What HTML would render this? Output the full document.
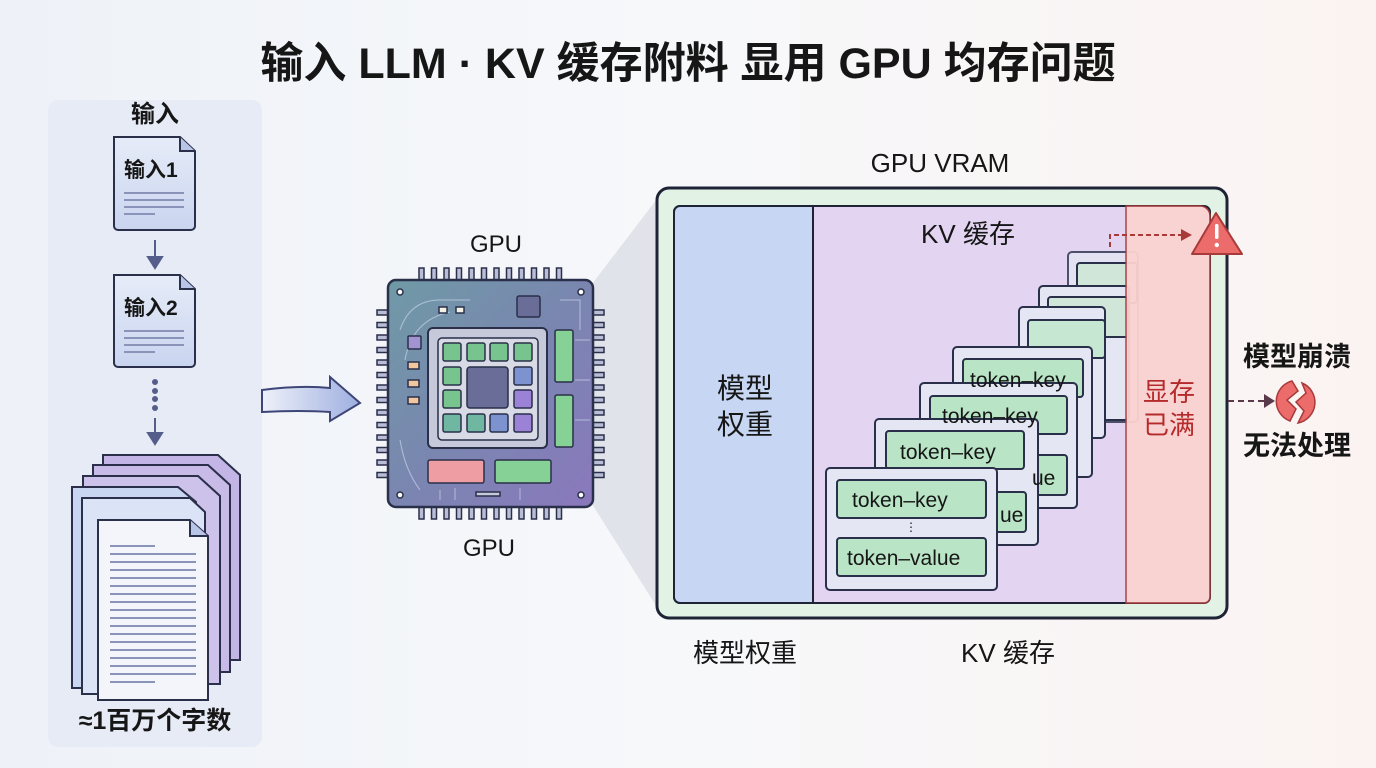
<!DOCTYPE html>
<html><head><meta charset="utf-8"><style>
html,body{margin:0;padding:0;width:1376px;height:768px;overflow:hidden;background:linear-gradient(90deg,#eef2f8,#f7f8fa 50%,#fbf3f2);}
svg{display:block}
text{font-family:"Liberation Sans","Noto Sans CJK SC",sans-serif;fill:#161616}
</style></head><body>
<svg width="1376" height="768" viewBox="0 0 1376 768" xmlns="http://www.w3.org/2000/svg">
<defs>
<linearGradient id="chip" x1="0" y1="0" x2="1" y2="1"><stop offset="0" stop-color="#6f9aa6"/><stop offset="0.5" stop-color="#7a86b0"/><stop offset="1" stop-color="#8a78bd"/></linearGradient>
<linearGradient id="arr" x1="0" x2="1"><stop offset="0" stop-color="#eef1fa"/><stop offset="1" stop-color="#9eaee0"/></linearGradient>
<linearGradient id="doc" x1="0" y1="0" x2="0" y2="1"><stop offset="0" stop-color="#e6ecf8"/><stop offset="1" stop-color="#c9d4ef"/></linearGradient>
</defs>
<text x="688" y="78" font-size="43" font-weight="bold" text-anchor="middle">输入 LLM · KV 缓存附料 显用 GPU 均存问题</text>

<!-- left panel -->
<rect x="48" y="100" width="214" height="647" rx="10" fill="#e6ebf6"/>
<text x="155" y="122" font-size="24" font-weight="bold" text-anchor="middle">输入</text>
<g stroke="#2a2f4a" stroke-width="2">
<path d="M114 137 H180 L195 151 V226 a4 4 0 0 1 -4 4 H118 a4 4 0 0 1 -4 -4 Z" fill="url(#doc)"/>
<path d="M180 137 V151 H195" fill="#b9c5e6"/>
<path d="M114 275 H180 L195 289 V363 a4 4 0 0 1 -4 4 H118 a4 4 0 0 1 -4 -4 Z" fill="url(#doc)"/>
<path d="M180 275 V289 H195" fill="#b9c5e6"/>
</g>
<text x="124" y="177" font-size="21" font-weight="bold">输入1</text>
<text x="124" y="315" font-size="21" font-weight="bold">输入2</text>
<g stroke="#8a93b8" stroke-width="2">
<line x1="124" y1="193" x2="184" y2="193"/><line x1="124" y1="200" x2="184" y2="200"/><line x1="124" y1="207" x2="184" y2="207"/><line x1="124" y1="214" x2="155" y2="214"/>
<line x1="124" y1="331" x2="184" y2="331"/><line x1="124" y1="338" x2="184" y2="338"/><line x1="124" y1="345" x2="184" y2="345"/><line x1="124" y1="352" x2="155" y2="352"/>
</g>
<g fill="#555d8a" stroke="#555d8a" stroke-width="2">
<line x1="155" y1="240" x2="155" y2="258"/><path d="M148 257 L162 257 L155 268Z"/>
<circle cx="155" cy="382" r="2"/><circle cx="155" cy="391" r="2"/><circle cx="155" cy="399" r="2"/><circle cx="155" cy="408" r="2"/>
<line x1="155" y1="418" x2="155" y2="434"/><path d="M148 433 L162 433 L155 444Z"/>
</g>
<g stroke="#2a2f4a" stroke-width="2">
<path d="M103 455 H218 L240 475 V660 H103Z" fill="#c3b6e6"/>
<path d="M93 465 H208 L230 485 V672 H93Z" fill="#c8bbe8"/>
<path d="M83 476 H198 L220 496 V684 H83Z" fill="#cdc2ea"/>
<path d="M72 487 H178 L196 502 V688 H72Z" fill="#c9d6f2"/>
<path d="M82 498 H190 L205 512 V694 H82Z" fill="#dbe3f6"/>
<path d="M98 520 H190 L208 536 V700 H98Z" fill="#f3f5fb"/>
<path d="M190 520 V536 H208" fill="#b9c5e6"/>
</g>
<g stroke="#8a93b8" stroke-width="2">
<line x1="110" y1="546" x2="155" y2="546"/><line x1="110" y1="554" x2="196" y2="554"/><line x1="110" y1="562" x2="196" y2="562"/><line x1="110" y1="570" x2="196" y2="570"/><line x1="110" y1="578" x2="196" y2="578"/><line x1="110" y1="586" x2="196" y2="586"/><line x1="110" y1="594" x2="196" y2="594"/><line x1="110" y1="602" x2="196" y2="602"/><line x1="110" y1="610" x2="196" y2="610"/><line x1="110" y1="618" x2="196" y2="618"/><line x1="110" y1="626" x2="196" y2="626"/><line x1="110" y1="634" x2="196" y2="634"/><line x1="110" y1="642" x2="196" y2="642"/><line x1="110" y1="650" x2="196" y2="650"/><line x1="110" y1="658" x2="196" y2="658"/><line x1="110" y1="666" x2="196" y2="666"/><line x1="110" y1="674" x2="196" y2="674"/><line x1="110" y1="682" x2="155" y2="682"/>
</g>
<text x="155" y="729" font-size="25" font-weight="bold" text-anchor="middle">≈1百万个字数</text>

<!-- big arrow -->
<path d="M262 390 Q300 385 330 388 L330 377 L360 403 L330 421 L330 412 Q300 410 262 412 Z" fill="url(#arr)" stroke="#3e4677" stroke-width="2"/>

<!-- funnel -->
<path d="M592 284 L660 195 L660 612 L592 504 Z" fill="#dcdde6" opacity="0.8"/>

<!-- chip -->
<text x="496" y="252" font-size="24" text-anchor="middle">GPU</text>
<text x="489" y="556" font-size="24" text-anchor="middle">GPU</text>
<g fill="#b9bdd6" stroke="#2a2f4a" stroke-width="1.5">
<g id="tp"><rect x="419" y="268" width="5" height="12"/><rect x="431.5" y="268" width="5" height="12"/><rect x="444" y="268" width="5" height="12"/><rect x="456.5" y="268" width="5" height="12"/><rect x="469" y="268" width="5" height="12"/><rect x="481.5" y="268" width="5" height="12"/><rect x="494" y="268" width="5" height="12"/><rect x="506.5" y="268" width="5" height="12"/><rect x="519" y="268" width="5" height="12"/><rect x="531.5" y="268" width="5" height="12"/><rect x="544" y="268" width="5" height="12"/><rect x="556.5" y="268" width="5" height="12"/></g>
<use href="#tp" y="239"/>
<g id="lp"><rect x="377" y="310" width="11" height="5"/><rect x="377" y="322.5" width="11" height="5"/><rect x="377" y="335" width="11" height="5"/><rect x="377" y="347.5" width="11" height="5"/><rect x="377" y="360" width="11" height="5"/><rect x="377" y="372.5" width="11" height="5"/><rect x="377" y="385" width="11" height="5"/><rect x="377" y="397.5" width="11" height="5"/><rect x="377" y="410" width="11" height="5"/><rect x="377" y="422.5" width="11" height="5"/><rect x="377" y="435" width="11" height="5"/><rect x="377" y="447.5" width="11" height="5"/><rect x="377" y="460" width="11" height="5"/><rect x="377" y="472.5" width="11" height="5"/></g>
<use href="#lp" x="216"/>
</g>
<rect x="388" y="280" width="205" height="227" rx="8" fill="url(#chip)" stroke="#2a2f4a" stroke-width="2.5"/>
<g fill="none" stroke="#c9d6ea" stroke-width="1" opacity="0.7">
<path d="M400 330 Q410 300 440 300 H470"/><path d="M405 360 Q412 320 450 312"/><path d="M560 300 H580 V330"/><path d="M575 340 H590"/><path d="M575 380 H590"/><path d="M575 420 H590"/><path d="M440 490 V500"/><path d="M455 488 V500"/><path d="M520 488 V500"/><path d="M400 440 Q405 470 420 490"/>
</g>
<g fill="#fff" stroke="#2a2f4a" stroke-width="1.5"><circle cx="400" cy="292" r="3"/><circle cx="581" cy="292" r="3"/><circle cx="400" cy="495" r="3"/><circle cx="581" cy="495" r="3"/></g>
<rect x="428" y="328" width="119" height="120" rx="5" fill="#c5c9d9" stroke="#2a2f4a" stroke-width="2"/>
<rect x="438" y="338" width="100" height="102" rx="4" fill="#d8dbe6" stroke="#2a2f4a" stroke-width="1.5"/>
<g stroke="#2a2f4a" stroke-width="1.5">
<rect x="443" y="343" width="18" height="18" rx="2" fill="#78c48f"/><rect x="467" y="343" width="18" height="18" rx="2" fill="#78c48f"/><rect x="490" y="343" width="18" height="18" rx="2" fill="#78c48f"/><rect x="514" y="343" width="18" height="18" rx="2" fill="#78c48f"/>
<rect x="443" y="367" width="18" height="18" rx="2" fill="#78c48f"/><rect x="514" y="367" width="18" height="18" rx="2" fill="#7d93cf"/>
<rect x="443" y="390" width="18" height="18" rx="2" fill="#78c48f"/><rect x="514" y="390" width="18" height="18" rx="2" fill="#9b82d6"/>
<rect x="443" y="414" width="18" height="18" rx="2" fill="#6fb7a0"/><rect x="467" y="414" width="18" height="18" rx="2" fill="#6fb7a0"/><rect x="490" y="414" width="18" height="18" rx="2" fill="#7d93cf"/><rect x="514" y="414" width="18" height="18" rx="2" fill="#9b82d6"/>
<rect x="467" y="367" width="41" height="41" rx="3" fill="#6a6d98"/>
<rect x="555" y="330" width="18" height="52" rx="2" fill="#86d195"/><rect x="555" y="395" width="18" height="52" rx="2" fill="#86d195"/>
<rect x="428" y="460" width="56" height="23" rx="2" fill="#ee9ea3"/><rect x="495" y="460" width="56" height="23" rx="2" fill="#86d195"/>
<rect x="517" y="296" width="23" height="21" rx="2" fill="#6a6d98"/>
<rect x="408" y="336" width="13" height="13" rx="1" fill="#a294d0"/>
<rect x="408" y="362" width="11" height="7" fill="#f2c79e"/><rect x="408" y="380" width="11" height="7" fill="#f2c79e"/><rect x="408" y="397" width="11" height="7" fill="#f2c79e"/>
<rect x="439" y="307" width="8" height="6" fill="#f3f1e6"/><rect x="456" y="307" width="8" height="6" fill="#f3f1e6"/>
<rect x="476" y="492" width="24" height="4" fill="#c5c9d9"/>
</g>

<!-- VRAM -->
<text x="940" y="172" font-size="26" text-anchor="middle">GPU VRAM</text>
<rect x="657" y="188" width="570" height="430" rx="12" fill="#e2f3e6" stroke="#1e2436" stroke-width="3"/>
<rect x="674" y="206" width="536" height="397" rx="6" fill="#e3d4f2" stroke="#1e2436" stroke-width="2"/>
<path d="M680 206 H813 V603 H680 a6 6 0 0 1 -6 -6 V212 a6 6 0 0 1 6 -6Z" fill="#c7d6f3" stroke="#1e2436" stroke-width="2"/>
<text x="745" y="398" font-size="28" text-anchor="middle">模型</text>
<text x="745" y="434" font-size="28" text-anchor="middle">权重</text>
<text x="968" y="243" font-size="26" text-anchor="middle">KV 缓存</text>

<!-- cards -->
<g stroke="#2a2f4a" stroke-width="2">
<rect x="1068" y="252" width="70" height="170" rx="4" fill="#e4e6f3" opacity="0.8"/>
<rect x="1077" y="263" width="60" height="40" rx="3" fill="#cfe6d8"/>
<rect x="1039" y="286" width="90" height="134" rx="4" fill="#e4e6f3"/>
<rect x="1048" y="297" width="80" height="40" rx="3" fill="#cfe6d8"/>
<rect x="1019" y="307" width="86" height="131" rx="4" fill="#e4e6f3"/>
<rect x="1028" y="320" width="77" height="38" rx="3" fill="#c6e8d2"/>
<rect x="953" y="347" width="139" height="130" rx="4" fill="#e4e6f3"/>
<rect x="963" y="359" width="120" height="38" rx="3" fill="#b9e4c6"/>
<rect x="920" y="383" width="157" height="125" rx="4" fill="#e4e6f3"/>
<rect x="930" y="396" width="137" height="38" rx="3" fill="#b9e4c6"/>
<rect x="1000" y="455" width="67" height="40" rx="3" fill="#b9e4c6"/>
<rect x="875" y="419" width="163" height="126" rx="4" fill="#e4e6f3"/>
<rect x="886" y="431" width="138" height="38" rx="3" fill="#b9e4c6"/>
<rect x="990" y="492" width="36" height="40" rx="3" fill="#b9e4c6"/>
<rect x="826" y="468" width="171" height="122" rx="4" fill="#e4e6f3"/>
<rect x="837" y="480" width="149" height="38" rx="3" fill="#b9e4c6"/>
<rect x="837" y="538" width="149" height="38" rx="3" fill="#b9e4c6"/>
</g>
<text x="970" y="387" font-size="21">token–key</text>
<text x="942" y="423" font-size="21">token–key</text>
<text x="1032" y="485" font-size="21">ue</text>
<text x="900" y="459" font-size="21">token–key</text>
<text x="1000" y="522" font-size="21">ue</text>
<text x="852" y="507" font-size="21">token–key</text>
<text x="911" y="531" font-size="12" text-anchor="middle">⋮</text>
<text x="847" y="565" font-size="21">token–value</text>

<!-- red zone -->
<path d="M1126 206 H1200 a10 10 0 0 1 10 10 V597 a6 6 0 0 1 -6 6 H1126Z" fill="#fbd3d1" stroke="#a83a3a" stroke-width="1.5" opacity="0.95"/>
<text x="1169" y="401" font-size="26" text-anchor="middle" style="fill:#b52a2a">显存</text>
<text x="1169" y="434" font-size="26" text-anchor="middle" style="fill:#b52a2a">已满</text>
<path d="M1110 247 V235 H1183" fill="none" stroke="#a83a3a" stroke-width="2" stroke-dasharray="5 3"/>
<path d="M1181 229 L1192 235 L1181 241Z" fill="#a83a3a"/>
<path d="M1216 213 L1242 254 H1192 Z" fill="#ec6b6b" stroke="#a83a3a" stroke-width="2" stroke-linejoin="round"/>
<rect x="1215" y="224" width="3.5" height="15" rx="1.5" fill="#fff"/><circle cx="1216.8" cy="245" r="2.2" fill="#fff"/>

<!-- crash -->
<text x="1297" y="366" font-size="27" font-weight="bold" text-anchor="middle">模型崩溃</text>
<path d="M1228 401 H1266" stroke="#5a3a4a" stroke-width="2" stroke-dasharray="6 4"/>
<path d="M1264 394 L1275 401 L1264 408Z" fill="#5a3a4a"/>
<path d="M1292 381 A21 21 0 0 0 1290 421 L1296 409 L1287 400 L1298 391 Z" fill="#ec6b6b" stroke="#a83a3a" stroke-width="1.5"/>
<path d="M1302 383 A21 21 0 0 1 1298 423 L1304 411 L1296 402 L1306 393 Z" fill="#ec6b6b" stroke="#a83a3a" stroke-width="1.5"/>
<text x="1297" y="455" font-size="27" font-weight="bold" text-anchor="middle">无法处理</text>

<text x="745" y="662" font-size="26" text-anchor="middle">模型权重</text>
<text x="1008" y="662" font-size="26" text-anchor="middle">KV 缓存</text>
</svg>
</body></html>
